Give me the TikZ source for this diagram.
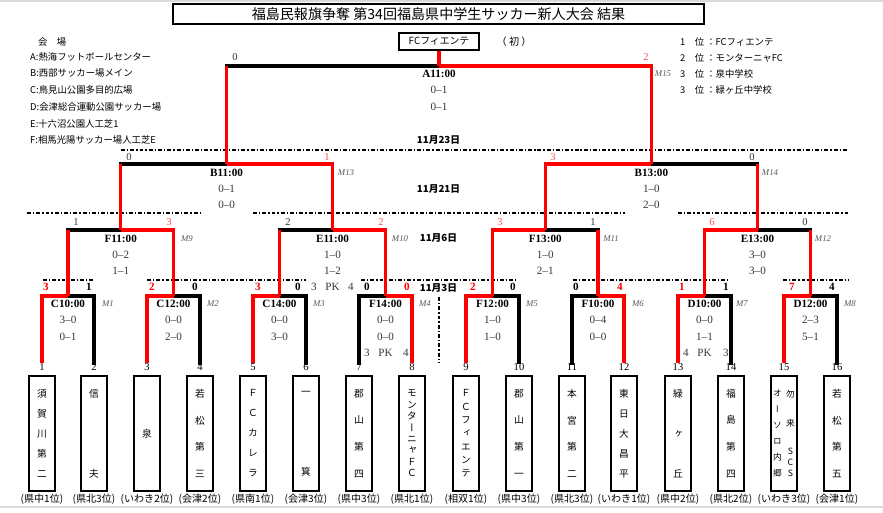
\documentclass[tikz,border=0pt]{standalone}
\usepackage{fontspec}
\setmainfont{Liberation Serif}
\newfontfamily\jp{Noto Sans CJK JP}
\newfontfamily\jpv[RawFeature=+vert]{Noto Sans CJK JP}
\usepackage{tikz}
\definecolor{brred}{RGB}{255,0,0}
\definecolor{brpink}{RGB}{255,80,80}
\definecolor{brgrey}{RGB}{55,55,55}
\usetikzlibrary{positioning}

\begin{document}
\begin{tikzpicture}[x=0.03cm,y=-0.03cm,font=\jp\fontsize{8}{9}\selectfont,
  win/.style={brred,line width=2.6pt},
  lose/.style={black,line width=2.6pt,line cap=rect},
  daybreak/.style={black,line width=1.4pt,dash pattern=on 3.4pt off 1.7pt on 1.1pt off 1.7pt},
  matchtime/.style={font=\bfseries\fontsize{9.5}{10}\selectfont,inner sep=0pt},
  matchscore/.style={font=\fontsize{9.5}{10}\selectfont,text=brgrey,inner sep=0pt},
  matchno/.style={font=\itshape\fontsize{7.5}{8}\selectfont,text=black!65,inner sep=0pt},
  goalwin/.style={font=\fontsize{9}{10}\selectfont,text=brpink,inner sep=0pt},
  goallose/.style={font=\fontsize{9}{10}\selectfont,text=brgrey,inner sep=0pt},
  firstwin/.style={font=\bfseries\fontsize{9.5}{10}\selectfont,text=brred,inner sep=0pt},
  firstlose/.style={font=\bfseries\fontsize{9.5}{10}\selectfont,text=black,inner sep=0pt},
  teambox/.style={draw,line width=1.6pt,minimum width=0.78cm,minimum height=3.45cm,inner sep=0pt,align=center,font={\jpv\fontsize{8.3}{#1}\selectfont}},
  teamnum/.style={font=\fontsize{9}{10}\selectfont,inner sep=0.5pt},
  region/.style={font=\jp\fontsize{8.6}{9}\selectfont,inner sep=0.5pt},
  venue/.style={anchor=west,inner sep=0pt},
  daytext/.style={font=\jp\bfseries\fontsize{8.3}{9}\selectfont,inner sep=0pt}]
  \useasboundingbox (0,0) rectangle (883,513);
  \draw[black!15,line width=1pt] (0,1) -- (883,1);
  \draw[black!15,line width=1pt] (0,507) -- (883,507);

  \node[draw,line width=1.3pt,minimum width=15.93cm,minimum height=0.6cm,inner sep=0pt,font=\jp\fontsize{12}{13}\selectfont] (title) at (438.5,14) {福島民報旗争奪 第34回福島県中学生サッカー新人大会 結果};
  \node[draw,line width=1.3pt,minimum width=2.4cm,minimum height=0.51cm,inner sep=0pt,font=\jp\fontsize{8.4}{9}\selectfont] (champ) at (439,41.5) {FCフィエンテ};
  \node[inner sep=0pt,right=0.5cm of champ,font=\jp\fontsize{8.6}{9}\selectfont] (first) {（ 初 ）};

  \node[venue] (venues) at (38,42) {会　場};
  \node[venue] (va) at (30,57) {A:熱海フットボールセンター};
  \node[venue] (vb) at (30,73) {B:西部サッカー場メイン};
  \node[venue] (vc) at (30,90) {C:鳥見山公園多目的広場};
  \node[venue] (vd) at (30,107) {D:会津総合運動公園サッカー場};
  \node[venue] (ve) at (30,124) {E:十六沼公園人工芝1};
  \node[venue] (vf) at (30,140) {F:相馬光陽サッカー場人工芝E};

  \node[venue] (rank1) at (680,42) {1　位 ：FCフィエンテ};
  \node[venue] (rank2) at (680,58) {2　位 ：モンターニャFC};
  \node[venue] (rank3) at (680,74) {3　位 ：泉中学校};
  \node[venue] (rank4) at (680,90) {3　位 ：緑ヶ丘中学校};

  \node[daytext] (day4) at (438.5,140) {11月23日};
  \node[daytext] (day3) at (438.5,189) {11月21日};
  \node[daytext] (day2) at (438.5,238) {11月6日};
  \node[daytext] (day1) at (438.5,288) {11月3日};
  \draw[daybreak] (121,150) -- (848,150);
  \draw[daybreak] (27,213) -- (200,213);
  \draw[daybreak] (253,213) -- (625,213);
  \draw[daybreak] (678,213) -- (848,213);
  \draw[daybreak] (43,280) -- (93,280);
  \draw[daybreak] (147,280) -- (306,280);
  \draw[daybreak] (361,280) -- (518,280);
  \draw[daybreak] (573,280) -- (730,280);
  \draw[daybreak] (783,280) -- (848,280);
  \draw[daybreak] (439,297) -- (439,362);

  \node[teambox=17.1pt] (b1) at (42,433.5) {須\\賀\\川\\第\\二};
  \node[teambox=68.3pt] (b2) at (94,433.5) {信\\夫};
  \node[teambox=10pt] (b3) at (147,433.5) {泉};
  \node[teambox=22.8pt] (b4) at (200,433.5) {若\\松\\第\\三};
  \node[teambox=17.1pt] (b5) at (253,433.5) {Ｆ\\Ｃ\\カ\\レ\\ラ};
  \node[teambox=68.3pt] (b6) at (306,433.5) {一\\箕};
  \node[teambox=22.8pt] (b7) at (359,433.5) {郡\\山\\第\\四};
  \node[teambox=9.76pt] (b8) at (412,433.5) {モ\\ン\\タ\\ー\\ニ\\ャ\\Ｆ\\Ｃ};
  \node[teambox=11.4pt] (b9) at (466,433.5) {Ｆ\\Ｃ\\フ\\ィ\\エ\\ン\\テ};
  \node[teambox=22.8pt] (b10) at (519,433.5) {郡\\山\\第\\一};
  \node[teambox=22.8pt] (b11) at (572,433.5) {本\\宮\\第\\二};
  \node[teambox=17.1pt] (b12) at (624,433.5) {東\\日\\大\\昌\\平};
  \node[teambox=34.1pt] (b13) at (678,433.5) {緑\\ヶ\\丘};
  \node[teambox=22.8pt] (b14) at (731,433.5) {福\\島\\第\\四};
  \node[teambox=10pt] (b15) at (784,433.5) {\parbox[c]{0.39cm}{\centering\fontsize{7.4}{13.6pt}\selectfont オ\\ー\\ソ\\ロ\\内\\郷}\parbox[c]{0.39cm}{\centering\fontsize{7.4}{9.8pt}\selectfont 勿\\[14.9pt]来\\[14pt]S\\C\\S}};
  \node[teambox=22.8pt] (b16) at (837,433.5) {若\\松\\第\\五};
  \foreach \i in {1,...,16}
    \node[teamnum,above=0.1cm of b\i] (n\i) {\i};
  \foreach \i/\r in {1/県中1位,2/県北3位,3/いわき2位,4/会津2位,5/県南1位,6/会津3位,7/県中3位,8/県北1位,9/相双1位,10/県中3位,11/県北3位,12/いわき1位,13/県中2位,14/県北2位,15/いわき3位,16/会津1位}
    \node[region,below=0.05cm of b\i] (r\i) {(\r)};

  \coordinate (m1) at (68,296);
  \coordinate (m2) at (173.5,296);
  \coordinate (m3) at (279.5,296);
  \coordinate (m4) at (385.5,296);
  \coordinate (m5) at (492.5,296);
  \coordinate (m6) at (598,296);
  \coordinate (m7) at (704.5,296);
  \coordinate (m8) at (810.5,296);
  \coordinate (m9) at (120.75,230);
  \coordinate (m10) at (332.5,230);
  \coordinate (m11) at (545.25,230);
  \coordinate (m12) at (757.5,230);
  \coordinate (m13) at (226.6,164);
  \coordinate (m14) at (651.4,164);
  \coordinate (m15) at (439,66);

  \draw[lose] (n2.north) |- (m1);
  \draw[lose] (n4.north) |- (m2);
  \draw[lose] (n6.north) |- (m3);
  \draw[lose] (n7.north) |- (m4);
  \draw[lose] (n10.north) |- (m5);
  \draw[lose] (n11.north) |- (m6);
  \draw[lose] (n14.north) |- (m7);
  \draw[lose] (n16.north) |- (m8);
  \draw[lose] (m1 |- m9) -- (m9);
  \draw[lose] (m3 |- m10) -- (m10);
  \draw[lose] (m6 |- m11) -- (m11);
  \draw[lose] (m8 |- m12) -- (m12);
  \draw[lose] (m9 |- m13) -- (m13);
  \draw[lose] (m12 |- m14) -- (m14);
  \draw[lose] (m13 |- m15) -- (m15);

  \draw[win] (n1.north) |- (m1);
  \draw[win] (n3.north) |- (m2);
  \draw[win] (n5.north) |- (m3);
  \draw[win] (n8.north) |- (m4);
  \draw[win] (n9.north) |- (m5);
  \draw[win] (n12.north) |- (m6);
  \draw[win] (n13.north) |- (m7);
  \draw[win] (n15.north) |- (m8);
  \draw[win] (m1) -- (m1 |- m9);
  \draw[win] (m2) |- (m9);
  \draw[win] (m3) -- (m3 |- m10);
  \draw[win] (m4) |- (m10);
  \draw[win] (m5) |- (m11);
  \draw[win] (m6) -- (m6 |- m11);
  \draw[win] (m7) |- (m12);
  \draw[win] (m8) -- (m8 |- m12);
  \draw[win] (m9) -- (m9 |- m13);
  \draw[win] (m10) |- (m13);
  \draw[win] (m11) |- (m14);
  \draw[win] (m12) -- (m12 |- m14);
  \draw[win] (m13) -- (m13 |- m15);
  \draw[win] (m14) |- (m15);
  \draw[win] (m15) -- (m15 |- champ.south);

  \node[matchtime] (m15t) at (439,74) {A11:00};
  \node[matchscore] (m15a) at (439,90) {0--1};
  \node[matchscore] (m15b) at (439,107) {0--1};
  \node[goallose] (m15l) at (235,57) {0};
  \node[goalwin] (m15r) at (646,57) {2};
  \node[matchno] (m15n) at (663,74) {M15};

  \node[matchtime] (m13t) at (226.6,173) {B11:00};
  \node[matchscore] (m13a) at (226.6,189) {0--1};
  \node[matchscore] (m13b) at (226.6,205) {0--0};
  \node[goallose] (m13l) at (129,157) {0};
  \node[goalwin] (m13r) at (327,157) {1};
  \node[matchno] (m13n) at (346,173) {M13};

  \node[matchtime] (m14t) at (651.4,173) {B13:00};
  \node[matchscore] (m14a) at (651.4,189) {1--0};
  \node[matchscore] (m14b) at (651.4,205) {2--0};
  \node[goalwin] (m14l) at (553,157) {3};
  \node[goallose] (m14r) at (752,157) {0};
  \node[matchno] (m14n) at (770,173) {M14};

  \node[matchtime] (m9t) at (120.75,239) {F11:00};
  \node[matchscore] (m9a) at (120.75,255) {0--2};
  \node[matchscore] (m9b) at (120.75,271) {1--1};
  \node[goallose] (m9l) at (76,222) {1};
  \node[goalwin] (m9r) at (169,222) {3};
  \node[matchno] (m9n) at (187,239) {M9};

  \node[matchtime] (m10t) at (332.5,239) {E11:00};
  \node[matchscore] (m10a) at (332.5,255) {1--0};
  \node[matchscore] (m10b) at (332.5,271) {1--2};
  \node[matchscore] (m10pk) at (332.5,287) {PK};
  \node[matchscore] (m10pl) at (314,287) {3};
  \node[matchscore] (m10pr) at (351,287) {4};
  \node[goallose] (m10l) at (288,222) {2};
  \node[goalwin] (m10r) at (381,222) {2};
  \node[matchno] (m10n) at (400,239) {M10};

  \node[matchtime] (m11t) at (545.25,239) {F13:00};
  \node[matchscore] (m11a) at (545.25,255) {1--0};
  \node[matchscore] (m11b) at (545.25,271) {2--1};
  \node[goalwin] (m11l) at (500,222) {3};
  \node[goallose] (m11r) at (593,222) {1};
  \node[matchno] (m11n) at (611,239) {M11};

  \node[matchtime] (m12t) at (757.5,239) {E13:00};
  \node[matchscore] (m12a) at (757.5,255) {3--0};
  \node[matchscore] (m12b) at (757.5,271) {3--0};
  \node[goalwin] (m12l) at (712,222) {6};
  \node[goallose] (m12r) at (805,222) {0};
  \node[matchno] (m12n) at (823,239) {M12};

  \node[matchtime] (m1t) at (68,304) {C10:00};
  \node[matchscore] (m1a) at (68,320) {3--0};
  \node[matchscore] (m1b) at (68,337) {0--1};
  \node[firstwin] (m1l) at (46,287) {3};
  \node[firstlose] (m1r) at (89,287) {1};
  \node[matchno] (m1n) at (108,304) {M1};

  \node[matchtime] (m2t) at (173.5,304) {C12:00};
  \node[matchscore] (m2a) at (173.5,320) {0--0};
  \node[matchscore] (m2b) at (173.5,337) {2--0};
  \node[firstwin] (m2l) at (152,287) {2};
  \node[firstlose] (m2r) at (195,287) {0};
  \node[matchno] (m2n) at (213,304) {M2};

  \node[matchtime] (m3t) at (279.5,304) {C14:00};
  \node[matchscore] (m3a) at (279.5,320) {0--0};
  \node[matchscore] (m3b) at (279.5,337) {3--0};
  \node[firstwin] (m3l) at (258,287) {3};
  \node[firstlose] (m3r) at (298,287) {0};
  \node[matchno] (m3n) at (319,304) {M3};

  \node[matchtime] (m4t) at (385.5,304) {F14:00};
  \node[matchscore] (m4a) at (385.5,320) {0--0};
  \node[matchscore] (m4b) at (385.5,337) {0--0};
  \node[matchscore] (m4pk) at (385.5,353) {PK};
  \node[matchscore] (m4pl) at (367,353) {3};
  \node[matchscore] (m4pr) at (406,353) {4};
  \node[firstlose] (m4l) at (367,287) {0};
  \node[firstwin] (m4r) at (407,287) {0};
  \node[matchno] (m4n) at (425,304) {M4};

  \node[matchtime] (m5t) at (492.5,304) {F12:00};
  \node[matchscore] (m5a) at (492.5,320) {1--0};
  \node[matchscore] (m5b) at (492.5,337) {1--0};
  \node[firstwin] (m5l) at (473,287) {2};
  \node[firstlose] (m5r) at (513,287) {0};
  \node[matchno] (m5n) at (532,304) {M5};

  \node[matchtime] (m6t) at (598,304) {F10:00};
  \node[matchscore] (m6a) at (598,320) {0--4};
  \node[matchscore] (m6b) at (598,337) {0--0};
  \node[firstlose] (m6l) at (576,287) {0};
  \node[firstwin] (m6r) at (620,287) {4};
  \node[matchno] (m6n) at (638,304) {M6};

  \node[matchtime] (m7t) at (704.5,304) {D10:00};
  \node[matchscore] (m7a) at (704.5,320) {0--0};
  \node[matchscore] (m7b) at (704.5,337) {1--1};
  \node[matchscore] (m7pk) at (704.5,353) {PK};
  \node[matchscore] (m7pl) at (686,353) {4};
  \node[matchscore] (m7pr) at (726,353) {3};
  \node[firstwin] (m7l) at (682,287) {1};
  \node[firstlose] (m7r) at (726,287) {1};
  \node[matchno] (m7n) at (742,304) {M7};

  \node[matchtime] (m8t) at (810.5,304) {D12:00};
  \node[matchscore] (m8a) at (810.5,320) {2--3};
  \node[matchscore] (m8b) at (810.5,337) {5--1};
  \node[firstwin] (m8l) at (792,287) {7};
  \node[firstlose] (m8r) at (832,287) {4};
  \node[matchno] (m8n) at (850,304) {M8};
\end{tikzpicture}
\end{document}
